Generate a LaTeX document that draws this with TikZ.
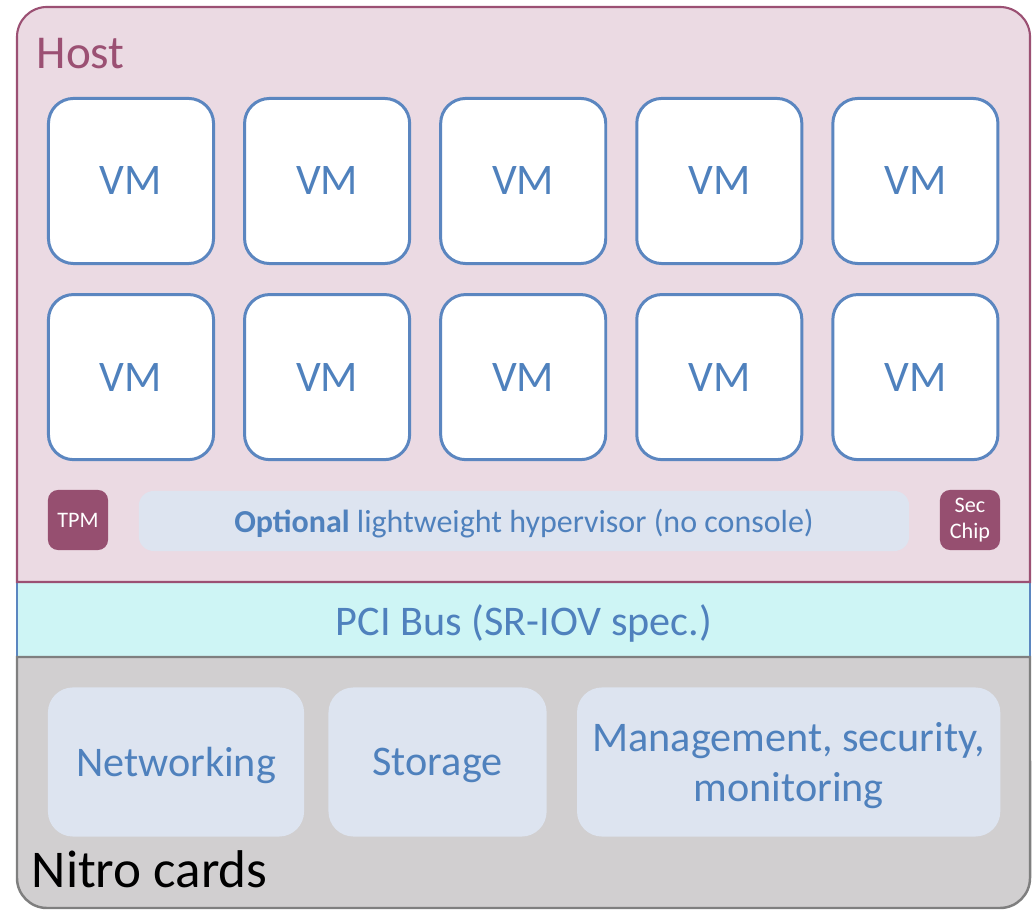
\documentclass[tikz,border=0pt]{standalone}
\usepackage{fontspec}
\setmainfont{Carlito}
\usetikzlibrary{positioning}
\definecolor{hostfill}{RGB}{235,218,227}
\definecolor{hostline}{RGB}{155,80,115}
\definecolor{chipfill}{RGB}{150,79,112}
\definecolor{vmline}{RGB}{91,134,192}
\definecolor{vmtext}{RGB}{79,129,189}
\definecolor{palefill}{RGB}{221,228,240}
\definecolor{pcifill}{RGB}{206,245,245}
\definecolor{nitrofill}{RGB}{209,207,208}
\definecolor{nitroline}{RGB}{127,127,127}
\tikzstyle{vm}=[
	draw=vmline,
	line width=.85pt,
	fill=white,
	rectangle,
	rounded corners=.25cm,
	minimum width=1.65cm,
	minimum height=1.65cm,
	inner sep=0,
	text=vmtext,
	font=\fontsize{12.4}{14}\selectfont]
\tikzstyle{chip}=[
	fill=chipfill,
	rectangle,
	rounded corners=.1cm,
	minimum size=.6cm,
	inner sep=0,
	align=center,
	text=white,
	font=\fontsize{6.3}{7.2}\selectfont]
\tikzstyle{pale}=[
	fill=palefill,
	rectangle,
	rounded corners=.25cm,
	inner sep=0,
	text depth=0,
	align=center,
	text=vmtext,
	font=\fontsize{12}{14}\selectfont]
\begin{document}
\begin{tikzpicture}[x=.01cm,y=-.01cm]
	\useasboundingbox (0,0) rectangle (1033,910);
	% frames
	\fill[pcifill] (17,582) rectangle (1030,657);
	\draw[vmline,line width=.6pt] (17,582) -- (17,657) (1030,582) -- (1030,657);
	\filldraw[fill=hostfill,draw=hostline,line width=.6pt] (17,582) -- (17,37) arc[start angle=180,end angle=90,radius=.3cm] -- (1000,7) arc[start angle=90,end angle=0,radius=.3cm] -- (1030,582) -- cycle;
	\filldraw[fill=nitrofill,draw=nitroline,line width=.7pt] (17,657) -- (17,878) arc[start angle=180,end angle=270,radius=.3cm] -- (1000,908) arc[start angle=270,end angle=360,radius=.3cm] -- (1030,657) -- cycle;
	\begin{scope}
		\node[anchor=base west,inner sep=0,text=hostline,font=\fontsize{13.4}{16}\selectfont] (hostlbl) at (36,69) {Host};
		\node[anchor=base west,inner sep=0,font=\fontsize{15.1}{17}\selectfont] (nitrolbl) at (31,888) {Nitro cards};
		\node[font=\fontsize{12}{14}\selectfont,text=vmtext] (pcibus) at (524,623) {PCI Bus (SR-IOV spec.)};
	\end{scope}
	\begin{scope}[node distance=.28cm]
		\node[vm]	(vma)	at (131,181)	{VM};
		\node[vm]	(vmb)	[right=of vma]	{VM};
		\node[vm]	(vmc)	[right=of vmb]	{VM};
		\node[vm]	(vmd)	[right=of vmc]	{VM};
		\node[vm]	(vme)	[right=of vmd]	{VM};
		\node[vm]	(vmf)	[below=of vma]	{VM};
		\node[vm]	(vmg)	[right=of vmf]	{VM};
		\node[vm]	(vmh)	[right=of vmg]	{VM};
		\node[vm]	(vmi)	[right=of vmh]	{VM};
		\node[vm]	(vmj)	[right=of vmi]	{VM};
	\end{scope}
	\begin{scope}
		\node[chip]	(tpm)	at (78,520)	{TPM};
		\node[chip]	(secchip)	at (970,520)	{Sec\\Chip};
		\node[pale,rounded corners=.15cm,minimum width=7.7cm,minimum height=.6cm,font=\fontsize{9.1}{11}\selectfont] (hyper) at (524,521) {\textbf{Optional} lightweight hypervisor (no console)};
	\end{scope}
	\begin{scope}[node distance=.23cm]
		\node[pale,minimum width=2.56cm,minimum height=1.49cm]	(netw)	at (176,762)	{Networking};
		\node[pale,minimum width=2.18cm,minimum height=1.49cm]	(stor)	[right=of netw]	{Storage};
		\node[pale,minimum width=4.23cm,minimum height=1.49cm,node distance=.29cm]	(mgmt)	[right=of stor]	{Management, security,\\monitoring};
	\end{scope}
\end{tikzpicture}
\end{document}
